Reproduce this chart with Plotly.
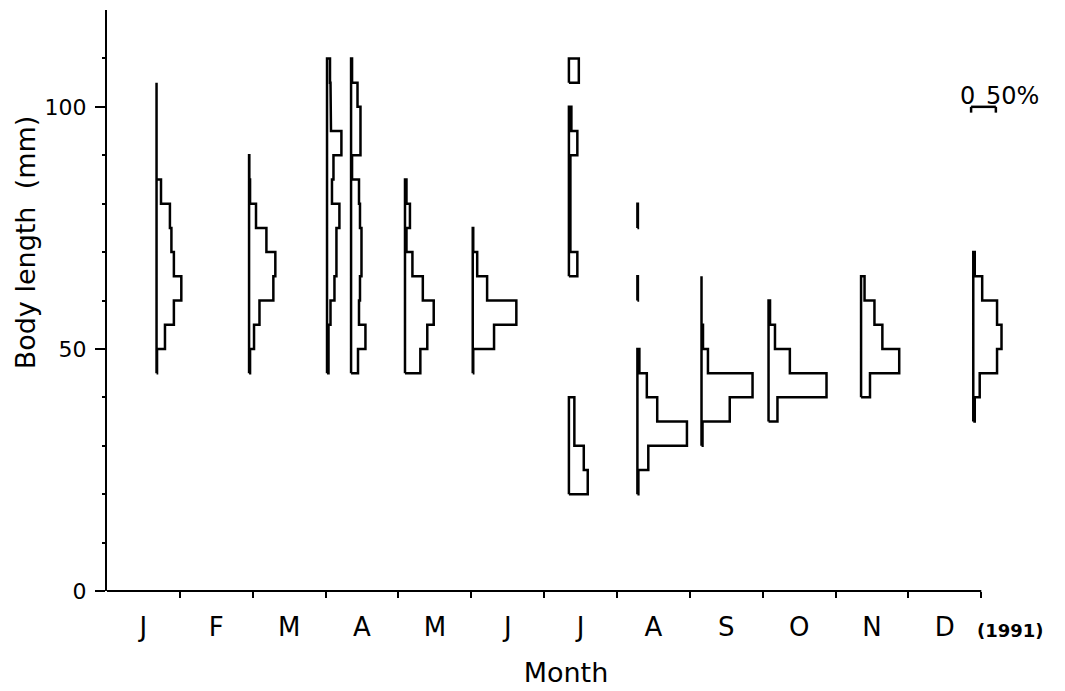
import plotly.graph_objects as go

# ---- data -------------------------------------------------------------
MONTH_LABELS = ["J", "F", "M", "A", "M", "J", "J", "A", "S", "O", "N", "D"]
YEAR_LABEL = "(1991)"
BIN_WIDTH = 5  # mm

# sampling position (in months from 1 Jan) of each length-frequency histogram
SAMPLE_POS = [0.68, 1.95, 3.02, 3.35, 4.09, 5.02, 6.34, 7.28, 8.16, 9.08, 10.35, 11.89]
# lower edge (mm) of the first bin of each histogram
SAMPLE_START = [45, 45, 45, 45, 45, 45, 20, 20, 30, 35, 40, 35]
# percentage in each 5-mm bin (None = no fish, no line drawn)
JAN = [1, 17, 35, 50, 35, 30, 27, 9, 0, 0, 0, 0]
MAR = [2, 10, 21, 49, 53, 35, 14, 2, 0.5]
APR1 = [3, 3, 7, 15, 19, 19, 25, 10, 13, 29, 8, 7, 6]
APR2 = [14, 29, 16, 18, 21, 21, 18, 16, 2, 19, 19, 13, 2]
MAY = [31, 45, 58, 36, 15, 3, 10, 3]
JUN = [1, 43, 88, 29, 9, 1]
JUL = [38, 30, 11, 11, None, None, None, None, None, 17, 3, 3, 3, 3, 17, 5, None, 20]
AUG = [2, 22, 100, 40, 19, 4, None, None, 1, None, None, 1]
SEP = [2, 57, 103, 13, 3, 0, 0]
OCT = [18, 117, 43, 13, 3]
NOV = [18, 77, 43, 27, 7]
DEC = [3, 13, 48, 57, 48, 18, 3]
SAMPLES = [JAN, MAR, APR1, APR2, MAY, JUN, JUL, AUG, SEP, OCT, NOV, DEC]

SCALE_PCT = 50            # length of the scale bar (%)
SCALE_POS = 11.86         # scale-bar start (months)
SCALE_Y = 100             # scale-bar level (mm)
PCT_TO_MONTH = 0.34 / 50  # horizontal size of 1 %

# ---- build outlines ---------------------------------------------------
xs, ys = [], []
for base, start, vals in zip(SAMPLE_POS, SAMPLE_START, SAMPLES):
    runs, cur = [], None
    for i, v in enumerate(vals):
        if v is None:
            if cur:
                runs.append(cur)
            cur = None
        else:
            if cur is None:
                cur = (i, [])
            cur[1].append(v)
    if cur:
        runs.append(cur)
    for i0, rv in runs:
        y0 = start + i0 * BIN_WIDTH
        px = [base]
        py = [y0]
        for j, v in enumerate(rv):
            xr = base + v * PCT_TO_MONTH
            px += [xr, xr]
            py += [y0 + j * BIN_WIDTH, y0 + (j + 1) * BIN_WIDTH]
        px += [base, base]
        py += [y0 + len(rv) * BIN_WIDTH, y0]
        xs += px + [None]
        ys += py + [None]

fig = go.Figure()
fig.add_trace(go.Scatter(x=xs, y=ys, mode="lines",
                         line=dict(color="black", width=2.5),
                         hoverinfo="skip", showlegend=False))

# scale bar
sx1 = SCALE_POS + SCALE_PCT * PCT_TO_MONTH
fig.add_trace(go.Scatter(
    x=[SCALE_POS, SCALE_POS, None, SCALE_POS, sx1, None, sx1, sx1],
    y=[SCALE_Y - 1.2, SCALE_Y, None, SCALE_Y, SCALE_Y, None, SCALE_Y, SCALE_Y - 1.2],
    mode="lines", line=dict(color="black", width=2.5),
    hoverinfo="skip", showlegend=False))

FONT = "DejaVu Sans"
fig.add_annotation(x=SCALE_POS - 0.05, y=SCALE_Y + 2.2, text="0", showarrow=False,
                   xanchor="center", yanchor="middle",
                   font=dict(family=FONT, size=24, color="black"))
fig.add_annotation(x=SCALE_POS + 0.18, y=SCALE_Y + 2.2, text="50%", showarrow=False,
                   xanchor="left", yanchor="middle",
                   font=dict(family=FONT, size=24, color="black"))
fig.add_annotation(x=12, y=0, xref="x", yref="y", text=YEAR_LABEL, showarrow=False,
                   xanchor="left", yanchor="middle", xshift=-6, yshift=-39,
                   font=dict(family=FONT, size=18, color="black", weight="bold"))
# y-axis title (placed like the original, above the axis centre)
fig.add_annotation(x=-0.0894, y=0.60, xref="paper", yref="paper",
                   text="Body length\u00a0\u00a0(mm)", textangle=-90, showarrow=False,
                   xanchor="center", yanchor="middle",
                   font=dict(family=FONT, size=27, color="black"))
# x-axis line, from Jan to the end of Dec
fig.add_shape(type="line", xref="x", yref="paper", x0=0, x1=12, y0=0, y1=0,
              line=dict(color="black", width=2))

fig.update_layout(
    width=1057, height=683, autosize=False,
    margin=dict(l=99, r=40.3, t=2, b=100, autoexpand=False),
    paper_bgcolor="white", plot_bgcolor="white",
    font=dict(family=FONT, color="black"),
    xaxis=dict(
        range=[0, 12.6], showgrid=False, zeroline=False, automargin=False,
        showline=False,
        tickvals=[i + 0.5 for i in range(12)], ticktext=MONTH_LABELS,
        ticks="outside", ticklen=6, tickcolor="rgba(0,0,0,0)",
        ticklabelstandoff=7,
        tickfont=dict(family=FONT, size=26, color="black"),
        minor=dict(tickvals=list(range(1, 13)), ticks="outside", ticklen=6,
                   tickwidth=2, tickcolor="black"),
        title=dict(text="Month", font=dict(family=FONT, size=27, color="black"),
                   standoff=21),
    ),
    yaxis=dict(
        range=[0, 120], showgrid=False, zeroline=False, automargin=False,
        showline=True, linecolor="black", linewidth=2,
        tickvals=[0, 50, 100], ticks="outside", ticklen=10, tickwidth=2,
        tickcolor="black", ticklabelstandoff=4,
        tickfont=dict(family=FONT, size=22, color="black"),
        minor=dict(tickvals=[10, 20, 30, 40, 60, 70, 80, 90, 110], ticks="outside",
                   ticklen=3, tickwidth=1.5, tickcolor="black"),
    ),
)

fig.write_html("out.html")
